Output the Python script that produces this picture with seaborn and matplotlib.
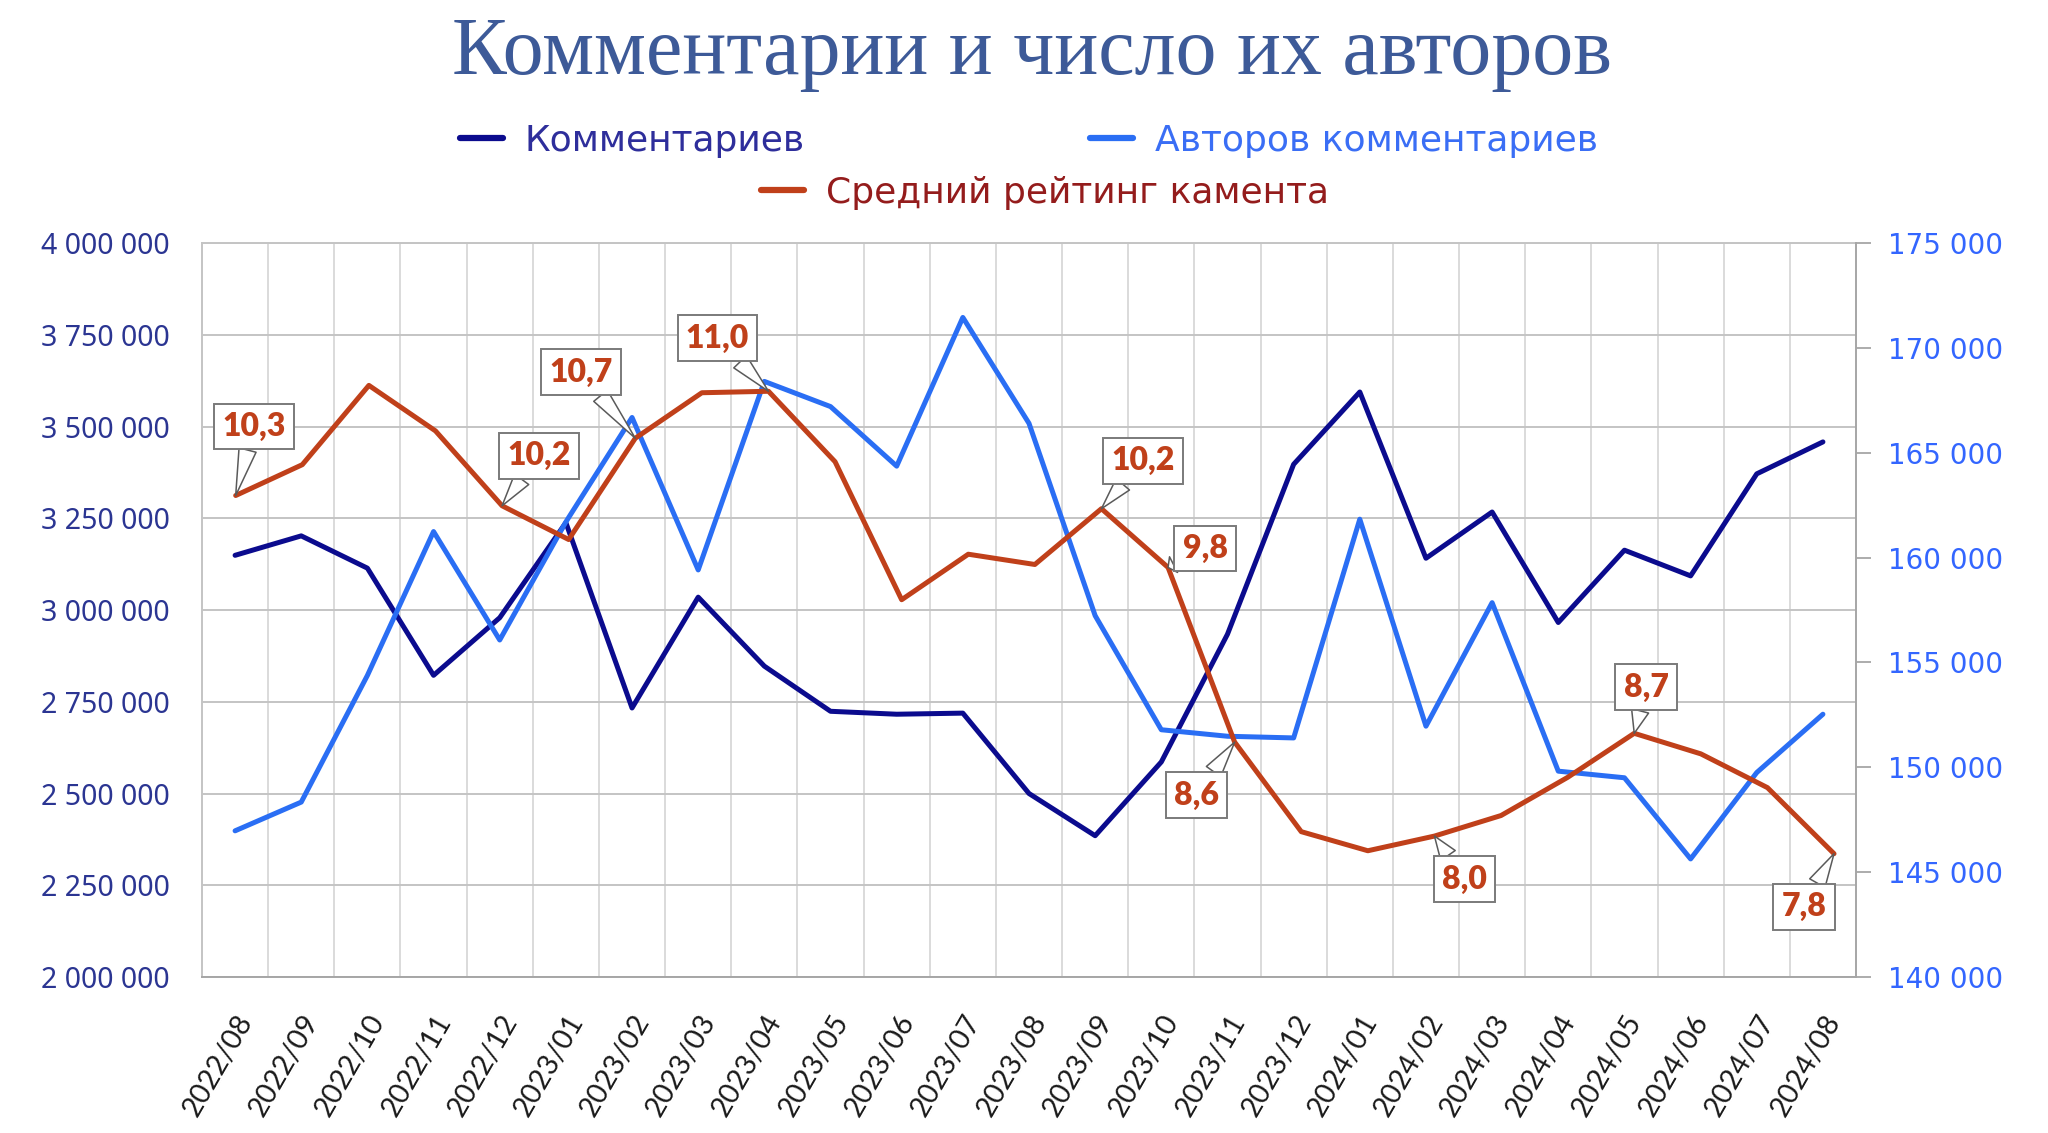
import numpy as np
import pandas as pd
import matplotlib.pyplot as plt
import matplotlib.ticker as mticker
from matplotlib.lines import Line2D
import seaborn as sns

# данные
months = ['2022/08', '2022/09', '2022/10', '2022/11', '2022/12',
          '2023/01', '2023/02', '2023/03', '2023/04', '2023/05', '2023/06', '2023/07',
          '2023/08', '2023/09', '2023/10', '2023/11', '2023/12',
          '2024/01', '2024/02', '2024/03', '2024/04', '2024/05', '2024/06', '2024/07', '2024/08']
comments = [3149000, 3202000, 3114000, 2822000, 2979000,
            3238000, 2733000, 3035000, 2847000, 2724000, 2716000, 2719000,
            2500000, 2385000, 2586000, 2934000, 3397000,
            3594000, 3141000, 3267000, 2966000, 3163000, 3093000, 3371000, 3458000]
authors = [146970, 148340, 154380, 161240, 156070,
           161700, 166680, 159410, 168400, 167200, 164360, 171450,
           166400, 157230, 151790, 151480, 151400,
           161830, 151960, 157850, 149815, 149500, 145630, 149750, 152530]
rating = [10.28, 10.49, 11.03, 10.72, 10.21,
          9.98, 10.67, 10.98, 10.99, 10.51, 9.57, 9.88,
          9.81, 10.19, 9.79, 8.60, 7.99,
          7.86, 7.96, 8.10, 8.36, 8.66, 8.52, 8.29, 7.84]
series_names = ['Комментариев', 'Авторов комментариев', 'Средний рейтинг камента']
title = 'Комментарии и число их авторов'

# подписи значений рейтинга: индекс -> смещение рамки (px)
callouts = {0: (18, 69), 4: (37, 50), 6: (-54, 66), 8: (-51, 53), 13: (42, 48),
            14: (37, 19), 15: (-38, -53), 18: (30, -43), 21: (12, 46), 24: (-30, -53)}

c_navy = '#0b0b8e'
c_blue = '#2a6ef4'
c_red = '#c0401a'

sns.set_style('white')
plt.rcParams['font.family'] = ['Noto Sans', 'DejaVu Sans']

W, H = 2048, 1133
fig = plt.figure(figsize=(W / 100, H / 100), dpi=100)
rect = [202 / W, 1 - 977 / H, (1856 - 202) / W, (977 - 243) / H]
ax = fig.add_axes(rect)
ax2 = ax.twinx()
ax3 = fig.add_axes(rect, frameon=False)

x = np.arange(len(months))
df = pd.DataFrame({'x': x, 'comments': comments, 'authors': authors, 'rating': rating})

sns.lineplot(data=df, x='x', y='comments', ax=ax, color=c_navy, lw=3.6,
             legend=False, solid_joinstyle='round', solid_capstyle='round')
sns.lineplot(data=df, x='x', y='authors', ax=ax2, color=c_blue, lw=3.6,
             legend=False, solid_joinstyle='round', solid_capstyle='round')
sns.lineplot(data=df, x='x', y='rating', ax=ax3, color=c_red, lw=3.6,
             legend=False, solid_joinstyle='round', solid_capstyle='round')

space_fmt = mticker.FuncFormatter(lambda v, p: f'{v:,.0f}'.replace(',', ' '))

# левая ось
ax.set_xlim(-0.5, len(months) - 0.5)
ax.set_ylim(2000000, 4000000)
ax.yaxis.set_major_locator(mticker.MultipleLocator(250000))
ax.yaxis.set_major_formatter(space_fmt)
ax.set_xticks(x)
ax.set_xticks(np.arange(0.5, len(months) - 0.5, 1), minor=True)
ax.set_xticklabels(months, rotation=60, ha='right', va='top', rotation_mode='anchor',
                   fontsize=20.5, family='Lato', color='#1a1a1a')
ax.tick_params(axis='x', which='both', length=0, pad=24)
ax.tick_params(axis='y', length=0, pad=23, labelsize=20.5, labelcolor='#2b3592')
ax.grid(axis='y', which='major', color='#c4c4c4', lw=1.4)
ax.grid(axis='x', which='minor', color='#dadada', lw=1.4)
ax.set_xlabel('')
ax.set_ylabel('')
for s in ['left', 'top']:
    ax.spines[s].set_color('#c4c4c4')
    ax.spines[s].set_linewidth(1.4)
ax.spines['bottom'].set_color('#a6a6a6')
ax.spines['bottom'].set_linewidth(1.4)
ax.spines['right'].set_visible(False)

# правая ось
ax2.set_ylim(140000, 175000)
ax2.yaxis.set_major_locator(mticker.MultipleLocator(5000))
ax2.yaxis.set_major_formatter(space_fmt)
ax2.tick_params(axis='y', length=11, width=1.3, color='#a6a6a6', pad=12,
                labelsize=20, labelcolor='#3366ff')
for lbl in ax2.get_yticklabels():
    lbl.set_family('DejaVu Sans')
ax2.set_ylabel('')
for s in ['left', 'top', 'bottom']:
    ax2.spines[s].set_visible(False)
ax2.spines['right'].set_color('#a6a6a6')
ax2.spines['right'].set_linewidth(1.4)
ax2.grid(False)

# скрытая ось рейтинга
ax3.set_xlim(-0.506, 24.33)
ax3.set_ylim(7, 12)
ax3.axis('off')

for i, (dx, dy) in callouts.items():
    ax3.annotate(f'{rating[i]:.1f}'.replace('.', ','), xy=(x[i], rating[i]),
                 xytext=(dx, dy), textcoords='offset pixels',
                 ha='center', va='center', fontsize=23, fontweight='heavy',
                 family='Lato', color=c_red,
                 bbox=dict(boxstyle='square,pad=0.26', fc='white', ec='#7a7a7a', lw=1.4),
                 arrowprops=dict(arrowstyle='wedge,tail_width=0.55', fc='white',
                                 ec='#5a5a5a', lw=1.1, shrinkA=0, shrinkB=0))

# заголовок
fig.text(0.504, 1 - 54 / H, title, ha='center', va='center', fontsize=59,
         family='Liberation Serif', color='#3d5a98')

# легенда
leg_items = [(c_navy, series_names[0], '#2e2e9b', 460 / W, 1 - 141 / H),
             (c_blue, series_names[1], '#3a6ef5', 1090 / W, 1 - 141 / H),
             (c_red, series_names[2], '#941c1c', 761 / W, 1 - 193 / H)]
for col, name, tcol, lx, ly in leg_items:
    h = Line2D([0], [0], color=col, lw=4.5, solid_capstyle='round')
    lg = fig.legend([h], [name], loc='center left', bbox_to_anchor=(lx, ly),
                    frameon=False, borderpad=0, borderaxespad=0,
                    handlelength=1.2, handletextpad=0.6,
                    prop={'family': 'DejaVu Sans', 'size': 26})
    for t in lg.get_texts():
        t.set_color(tcol)

fig.savefig('out.png', dpi=100, facecolor='white')
